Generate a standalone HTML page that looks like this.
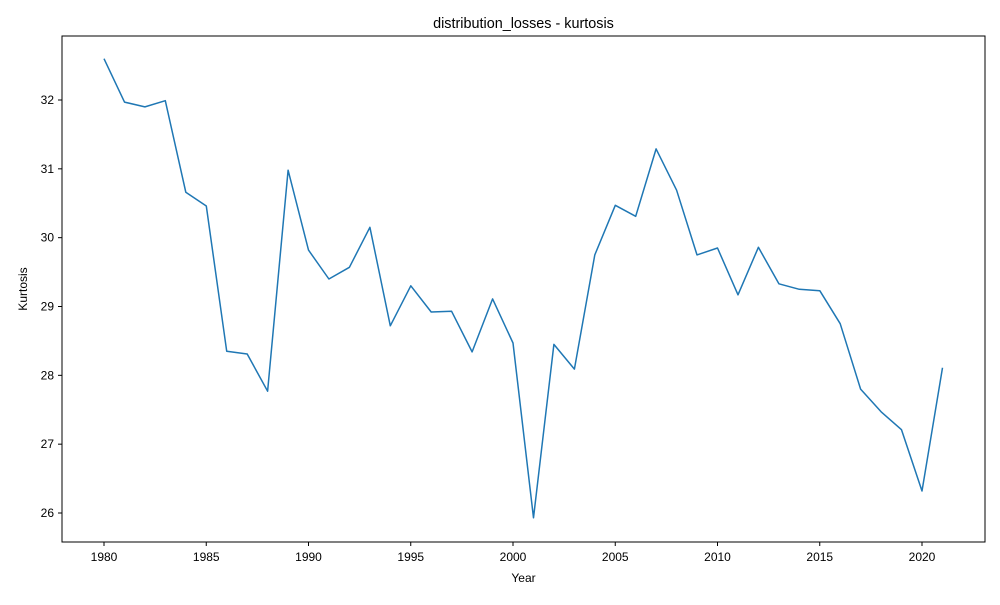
<!DOCTYPE html>
<html><head><meta charset="utf-8"><style>
body{margin:0;background:#fff}
svg{font-family:"Liberation Sans","DejaVu Sans",sans-serif}
</style></head><body>
<svg id="chart" width="1000" height="600"></svg>
<script>
const years=[];for(let y=1980;y<=2021;y++)years.push(y);
const values=[32.60,31.97,31.90,31.99,30.66,30.46,28.35,28.31,27.77,30.98,29.82,29.40,29.57,30.15,28.72,29.30,28.92,28.93,28.34,29.11,28.47,25.93,28.45,28.09,29.75,30.47,30.31,31.29,30.69,29.75,29.85,29.17,29.86,29.33,29.25,29.23,28.75,27.80,27.47,27.21,26.32,28.11];
const xTicks=[1980,1985,1990,1995,2000,2005,2010,2015,2020];
const yTicks=[26,27,28,29,30,31,32];
const NS="http://www.w3.org/2000/svg";
const svg=document.getElementById('chart');
const L=62,R=985,T=36,B=542;
const xs=v=>104+(v-1980)*(922-104)/40;
const ys=v=>513-(v-26)*(513-100)/6;
function mk(t,a,p){const e=document.createElementNS(NS,t);for(const k in a)e.setAttribute(k,a[k]);(p||svg).appendChild(e);return e;}
const frame=mk('rect',{x:L,y:T,width:R-L,height:B-T,fill:'none',stroke:'#000','stroke-width':1});


xTicks.forEach(t=>{const x=xs(t);
 const l=mk('line',{x1:x,x2:x,y1:B,y2:B+4,stroke:'#000'});
 
 
 const tx=mk('text',{x:x,y:B+19,'text-anchor':'middle','font-size':12});tx.textContent=t;
 
 
});
yTicks.forEach(t=>{const y=ys(t);
 const l=mk('line',{x1:L-4,x2:L,y1:y,y2:y,stroke:'#000'});
 
 
 const tx=mk('text',{x:L-8,y:y+4,'text-anchor':'end','font-size':12});tx.textContent=t;
 
 
});
const pts=years.map((y,i)=>xs(y).toFixed(1)+','+ys(values[i]).toFixed(1)).join(' ');
const line=mk('polyline',{points:pts,fill:'none',stroke:'#1f77b4','stroke-width':1.5,'stroke-linejoin':'round'});


const title=mk('text',{x:523.5,y:28,'text-anchor':'middle','font-size':14.4});title.textContent='distribution_losses - kurtosis';


const xl=mk('text',{x:523.5,y:582,'text-anchor':'middle','font-size':12});xl.textContent='Year';


const yl=mk('text',{x:27,y:289,'text-anchor':'middle','font-size':12,transform:'rotate(-90 27 289)'});yl.textContent='Kurtosis';


</script>
</body></html>
